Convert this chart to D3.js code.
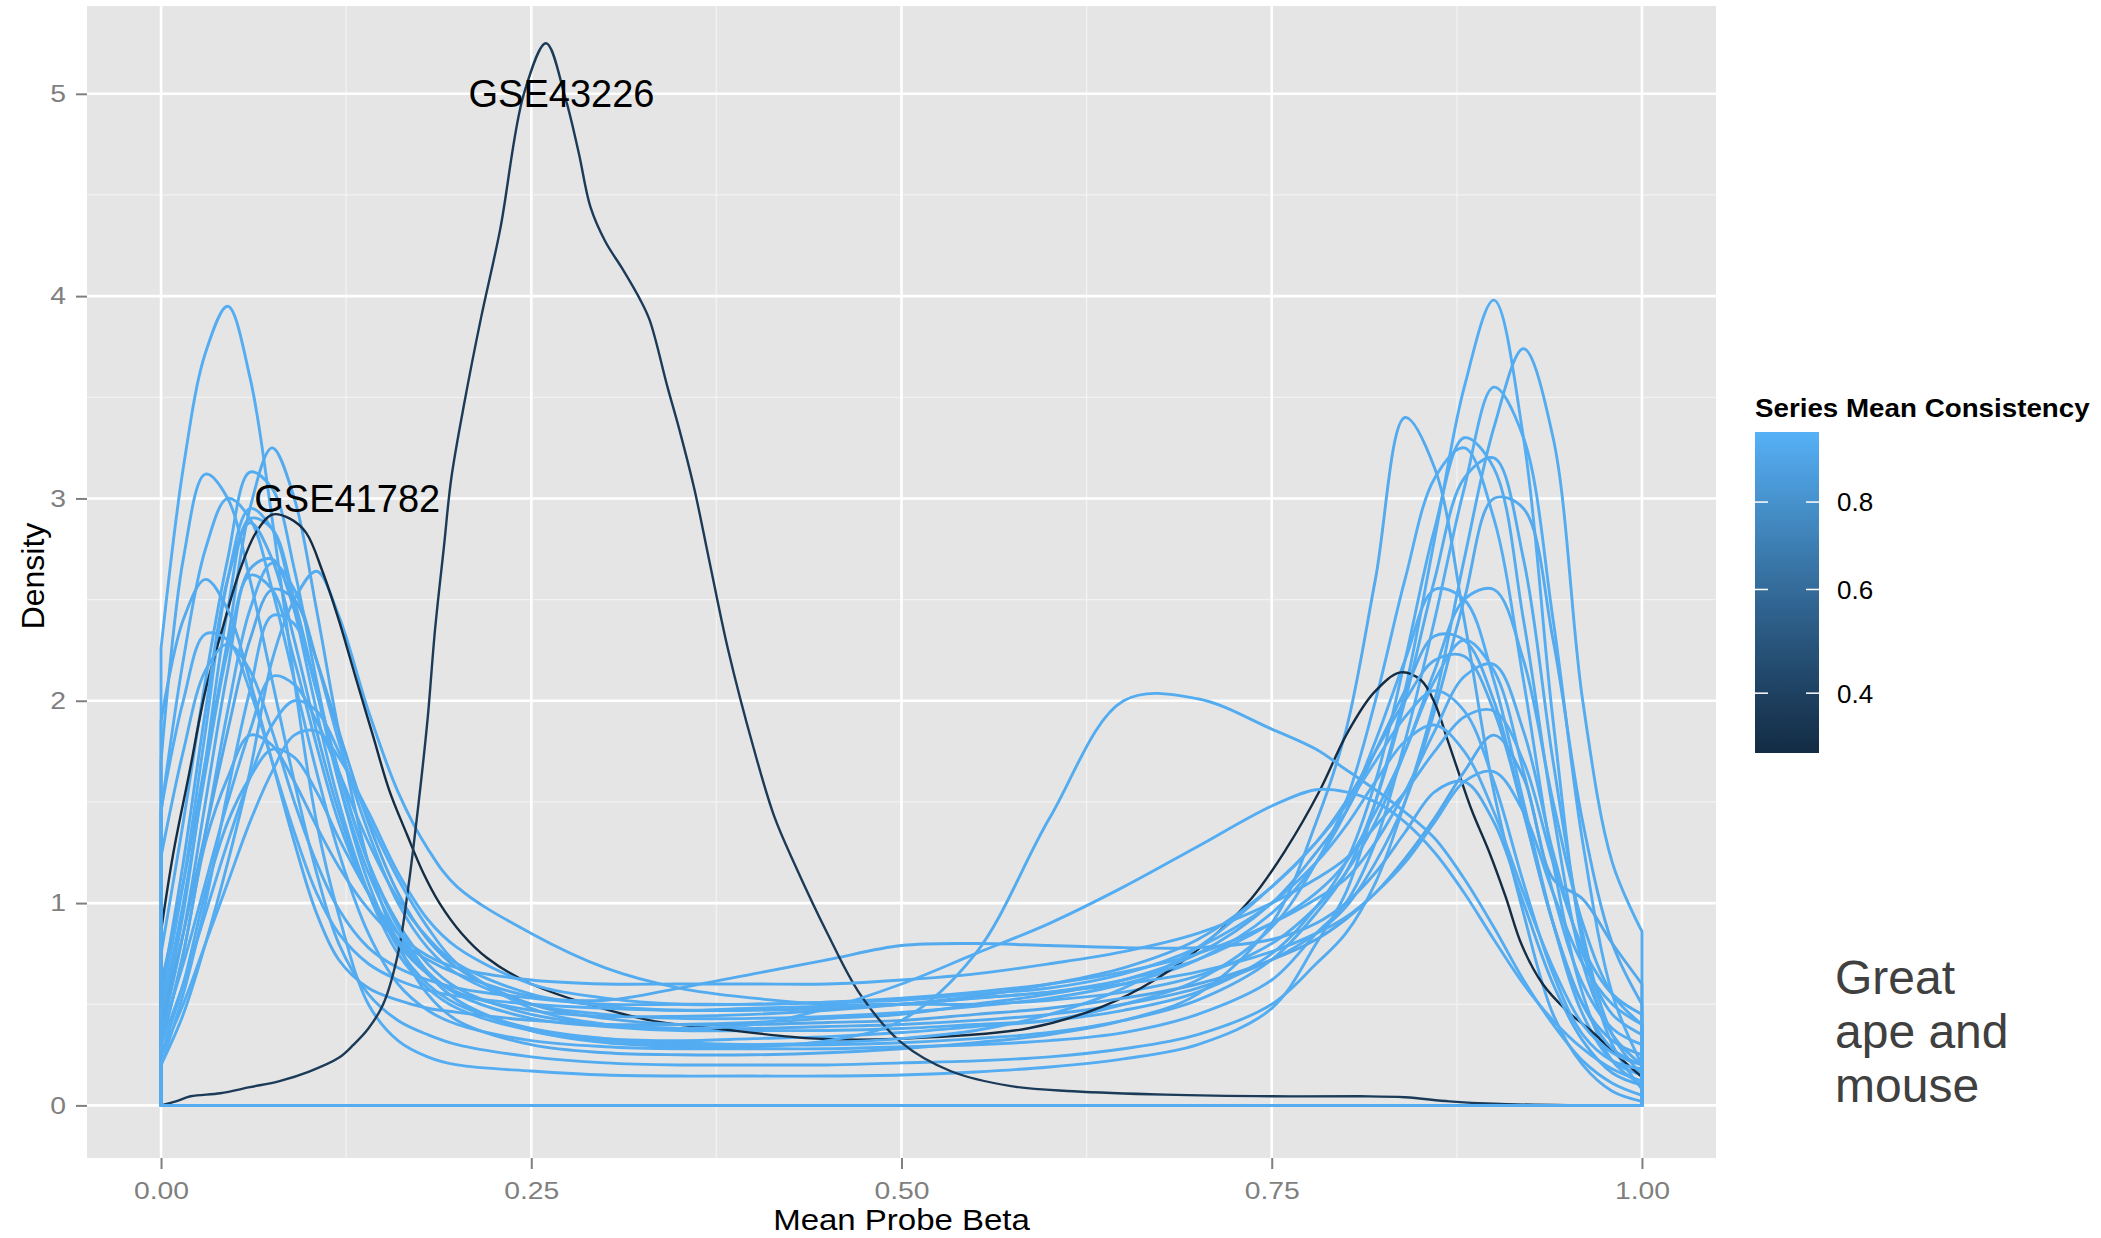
<!DOCTYPE html>
<html>
<head>
<meta charset="utf-8">
<script src="https://cdn.jsdelivr.net/npm/d3@7"></script>
<style>
  body { margin: 0; background: #ffffff; }
  svg { display: block; }
  text { font-family: "Liberation Sans", Arial, Helvetica, sans-serif; }
</style>
</head>
<body>
<svg id="chart" width="2101" height="1238"></svg>
<script>
// Shared beta grid for the per-series density estimates
const betaGrid = [0, 0.015, 0.03, 0.045, 0.06, 0.075, 0.09, 0.105, 0.12, 0.14, 0.16, 0.18, 0.2, 0.25, 0.3, 0.35, 0.4, 0.45, 0.5, 0.55, 0.6, 0.65, 0.7, 0.75, 0.78, 0.8, 0.82, 0.84, 0.86, 0.88, 0.9, 0.92, 0.94, 0.96, 0.98, 1];

// Densities of the high-consistency series on betaGrid
const s01 = [2.26, 3.15, 3.72, 3.95, 3.6, 2.9, 2.1, 1.4, 0.94, 0.5, 0.32, 0.24, 0.2, 0.17, 0.15, 0.145, 0.145, 0.145, 0.15, 0.165, 0.19, 0.23, 0.3, 0.48, 0.8, 1.05, 1.5, 2.05, 2.8, 3.55, 3.98, 3.3, 1.9, 0.8, 0.3, 0.08];
const s02 = [1.7, 2.7, 3.12, 3.0, 2.6, 2.1, 1.6, 1.15, 0.8, 0.55, 0.42, 0.35, 0.3, 0.24, 0.21, 0.2, 0.2, 0.2, 0.21, 0.22, 0.24, 0.28, 0.35, 0.5, 0.7, 0.85, 1.1, 1.5, 2.0, 2.7, 3.35, 3.74, 3.3, 2.0, 1.2, 0.86];
const s03 = [1.45, 2.2, 2.75, 3.0, 2.9, 2.55, 2.1, 1.65, 1.25, 0.85, 0.6, 0.47, 0.4, 0.32, 0.29, 0.28, 0.28, 0.28, 0.29, 0.3, 0.32, 0.36, 0.45, 0.62, 0.85, 1.0, 1.3, 1.8, 2.4, 3.05, 3.55, 3.3, 2.4, 1.3, 0.55, 0.2];
const s04 = [0.6, 1.1, 1.7, 2.3, 2.95, 3.25, 3.0, 2.45, 1.85, 1.2, 0.8, 0.55, 0.42, 0.3, 0.26, 0.25, 0.25, 0.26, 0.28, 0.31, 0.35, 0.42, 0.55, 0.9, 1.4, 1.85, 2.6, 3.4, 3.15, 2.4, 1.55, 0.95, 0.45, 0.2, 0.07, 0.02];
const s05 = [0.75, 1.4, 2.1, 2.7, 3.13, 3.05, 2.65, 2.1, 1.6, 1.1, 0.78, 0.6, 0.5, 0.38, 0.33, 0.31, 0.3, 0.3, 0.31, 0.33, 0.36, 0.42, 0.52, 0.72, 0.95, 1.15, 1.5, 2.0, 2.6, 3.1, 3.2, 2.7, 1.7, 0.85, 0.35, 0.15];
const s06 = [0.5, 1.1, 1.85, 2.6, 2.95, 2.85, 2.45, 1.95, 1.5, 1.05, 0.75, 0.58, 0.48, 0.37, 0.33, 0.32, 0.33, 0.34, 0.36, 0.39, 0.42, 0.5, 0.62, 0.88, 1.2, 1.5, 2.0, 2.6, 3.1, 3.25, 2.9, 2.1, 1.2, 0.55, 0.22, 0.1];
const s07 = [0.4, 0.95, 1.7, 2.45, 2.9, 2.85, 2.5, 2.05, 1.6, 1.15, 0.85, 0.66, 0.55, 0.43, 0.39, 0.37, 0.37, 0.37, 0.38, 0.4, 0.42, 0.47, 0.56, 0.75, 0.98, 1.2, 1.6, 2.2, 2.85, 3.3, 3.15, 2.4, 1.45, 0.7, 0.35, 0.2];
const s08 = [0.35, 0.85, 1.5, 2.15, 2.65, 2.7, 2.45, 2.05, 1.65, 1.2, 0.9, 0.7, 0.58, 0.45, 0.4, 0.38, 0.38, 0.39, 0.4, 0.42, 0.45, 0.5, 0.58, 0.72, 0.85, 0.98, 1.2, 1.5, 1.95, 2.5, 3.0, 2.95, 2.3, 1.4, 0.8, 0.5];
const s09 = [0.3, 0.75, 1.35, 1.95, 2.45, 2.68, 2.55, 2.2, 1.8, 1.35, 1.0, 0.78, 0.65, 0.5, 0.45, 0.43, 0.43, 0.44, 0.46, 0.49, 0.53, 0.6, 0.72, 0.95, 1.2, 1.45, 1.8, 2.2, 2.55, 2.5, 2.1, 1.5, 0.9, 0.45, 0.22, 0.15];
const s10 = [0.2, 0.45, 0.8, 1.2, 1.65, 2.2, 2.5, 2.64, 2.42, 1.95, 1.55, 1.27, 1.08, 0.85, 0.68, 0.58, 0.53, 0.5, 0.5, 0.5, 0.52, 0.56, 0.64, 0.8, 0.98, 1.15, 1.4, 1.75, 2.15, 2.5, 2.55, 2.2, 1.5, 0.9, 0.55, 0.4];
const s11 = [1.9, 2.4, 2.6, 2.45, 2.1, 1.7, 1.3, 0.95, 0.72, 0.58, 0.52, 0.48, 0.46, 0.42, 0.4, 0.4, 0.41, 0.43, 0.45, 0.5, 0.55, 0.62, 0.75, 1.0, 1.25, 1.45, 1.75, 2.05, 2.32, 2.3, 2.0, 1.45, 0.9, 0.5, 0.32, 0.25];
const s12 = [1.46, 2.0, 2.33, 2.3, 2.05, 1.7, 1.35, 1.05, 0.85, 0.7, 0.62, 0.57, 0.54, 0.5, 0.48, 0.47, 0.48, 0.49, 0.5, 0.53, 0.56, 0.62, 0.72, 0.9, 1.05, 1.2, 1.45, 1.75, 2.1, 2.3, 2.15, 1.65, 1.05, 0.6, 0.38, 0.3];
const s13 = [1.23, 1.75, 2.15, 2.28, 2.15, 1.85, 1.5, 1.2, 0.97, 0.78, 0.68, 0.62, 0.58, 0.53, 0.5, 0.5, 0.5, 0.51, 0.53, 0.56, 0.6, 0.66, 0.75, 0.9, 1.02, 1.12, 1.3, 1.55, 1.85, 2.12, 2.18, 1.85, 1.25, 0.75, 0.45, 0.35];
const s14 = [0.4, 0.85, 1.35, 1.85, 2.3, 2.55, 2.5, 2.2, 1.85, 1.4, 1.05, 0.82, 0.68, 0.5, 0.43, 0.4, 0.4, 0.41, 0.42, 0.45, 0.48, 0.53, 0.6, 0.72, 0.82, 0.92, 1.05, 1.22, 1.42, 1.65, 1.83, 1.62, 1.12, 1.02, 0.8, 0.6];
const s15 = [0.25, 0.5, 0.8, 1.1, 1.4, 1.65, 1.83, 1.85, 1.72, 1.45, 1.15, 0.92, 0.78, 0.6, 0.53, 0.5, 0.5, 0.51, 0.52, 0.55, 0.58, 0.65, 0.78, 1.0, 1.2, 1.38, 1.6, 1.8, 1.88, 1.75, 1.45, 1.05, 0.68, 0.4, 0.26, 0.2];
const s16 = [0.3, 0.75, 1.3, 1.62, 1.83, 1.78, 1.6, 1.38, 1.18, 0.97, 0.82, 0.72, 0.65, 0.54, 0.52, 0.58, 0.65, 0.72, 0.79, 0.8, 0.79, 0.78, 0.78, 0.82, 0.9, 1.0, 1.15, 1.35, 1.55, 1.6, 1.4, 1.0, 0.6, 0.32, 0.16, 0.1];
const s17 = [0.35, 0.7, 1.1, 1.5, 1.85, 2.12, 2.08, 1.9, 1.65, 1.3, 1.02, 0.83, 0.7, 0.55, 0.49, 0.47, 0.47, 0.48, 0.5, 0.53, 0.56, 0.6, 0.66, 0.76, 0.85, 0.93, 1.05, 1.2, 1.4, 1.6, 1.65, 1.45, 1.05, 0.7, 0.5, 0.4];
const s18 = [0.25, 0.6, 1.05, 1.4, 1.62, 1.76, 1.72, 1.55, 1.32, 1.05, 0.82, 0.65, 0.52, 0.37, 0.31, 0.29, 0.29, 0.32, 0.42, 0.75, 1.42, 2.0, 2.01, 1.86, 1.76, 1.66, 1.56, 1.45, 1.32, 1.12, 0.88, 0.62, 0.4, 0.22, 0.11, 0.05];
const s19 = [0.3, 0.6, 0.95, 1.3, 1.62, 1.88, 2.0, 1.95, 1.75, 1.42, 1.12, 0.88, 0.7, 0.48, 0.4, 0.38, 0.4, 0.48, 0.6, 0.75, 0.9, 1.08, 1.28, 1.48, 1.56, 1.55, 1.5, 1.4, 1.25, 1.05, 0.82, 0.6, 0.42, 0.28, 0.18, 0.12];
const s20 = [0.55, 1.2, 1.95, 2.6, 2.88, 2.7, 2.3, 1.85, 1.45, 1.05, 0.8, 0.65, 0.56, 0.47, 0.44, 0.44, 0.45, 0.47, 0.5, 0.54, 0.6, 0.68, 0.82, 1.08, 1.3, 1.5, 1.75, 2.0, 2.2, 2.22, 1.95, 1.45, 0.9, 0.5, 0.28, 0.2];
const s21 = [0.45, 1.0, 1.65, 2.25, 2.62, 2.55, 2.2, 1.78, 1.4, 1.05, 0.85, 0.74, 0.68, 0.62, 0.6, 0.6, 0.6, 0.6, 0.62, 0.65, 0.7, 0.76, 0.85, 1.0, 1.12, 1.22, 1.38, 1.55, 1.75, 1.92, 1.95, 1.7, 1.2, 0.78, 0.55, 0.45];
const s22 = [0.2, 0.55, 1.0, 1.55, 2.05, 2.42, 2.38, 2.05, 1.65, 1.2, 0.88, 0.66, 0.52, 0.37, 0.32, 0.3, 0.3, 0.31, 0.33, 0.37, 0.45, 0.58, 0.78, 1.08, 1.3, 1.48, 1.7, 1.92, 2.05, 1.95, 1.6, 1.1, 0.65, 0.35, 0.22, 0.18];

const lightSeries = [s01, s02, s03, s04, s05, s06, s07, s08, s09, s10, s11, s12, s13, s14, s15, s16, s17, s18, s19, s20, s21, s22];
const lightConsistency = [0.96, 0.95, 0.96, 0.94, 0.95, 0.96, 0.95, 0.94, 0.96, 0.95, 0.94, 0.96, 0.95, 0.93, 0.96, 0.94, 0.95, 0.95, 0.96, 0.94, 0.95, 0.96];

// The two low-consistency series, each on its own beta grid
const gse43226Beta = [0, 0.01, 0.02, 0.04, 0.06, 0.08, 0.1, 0.12, 0.13, 0.14, 0.15, 0.16, 0.167, 0.174, 0.18, 0.185, 0.191, 0.196, 0.205, 0.216, 0.229, 0.245, 0.26, 0.273, 0.282, 0.29, 0.3, 0.312, 0.323, 0.33, 0.342, 0.35, 0.36, 0.37, 0.383, 0.4, 0.414, 0.428, 0.45, 0.472, 0.5, 0.533, 0.574, 0.616, 0.678, 0.75, 0.81, 0.84, 0.87, 0.9, 0.95, 1];
const gse43226Density = [0, 0.02, 0.045, 0.06, 0.09, 0.12, 0.167, 0.235, 0.3, 0.38, 0.5, 0.75, 1.08, 1.5, 1.91, 2.35, 2.76, 3.1, 3.48, 3.89, 4.33, 5.0, 5.25, 4.98, 4.71, 4.44, 4.27, 4.13, 3.99, 3.88, 3.55, 3.34, 3.05, 2.7, 2.25, 1.77, 1.43, 1.19, 0.85, 0.55, 0.31, 0.17, 0.095, 0.07, 0.053, 0.045, 0.045, 0.04, 0.02, 0.008, 0.001, 0];
const gse41782Beta = [0, 0.008, 0.019, 0.03, 0.042, 0.053, 0.064, 0.075, 0.087, 0.098, 0.109, 0.12, 0.132, 0.143, 0.154, 0.166, 0.177, 0.188, 0.203, 0.22, 0.25, 0.327, 0.375, 0.442, 0.5, 0.585, 0.636, 0.671, 0.705, 0.736, 0.76, 0.782, 0.801, 0.819, 0.837, 0.851, 0.86, 0.869, 0.876, 0.885, 0.897, 0.908, 0.919, 0.933, 0.949, 0.967, 0.983, 1];
const gse41782Density = [0.86, 1.235, 1.64, 2.05, 2.37, 2.64, 2.83, 2.92, 2.9, 2.83, 2.64, 2.4, 2.1, 1.83, 1.56, 1.34, 1.15, 1.0, 0.85, 0.73, 0.6, 0.425, 0.38, 0.33, 0.33, 0.38, 0.49, 0.62, 0.8, 1.02, 1.27, 1.55, 1.84, 2.04, 2.14, 2.1, 1.99, 1.8, 1.65, 1.46, 1.25, 1.03, 0.79, 0.6, 0.47, 0.36, 0.25, 0.14];
const darkConsistency = [0.37, 0.31];

// Text labels for the two outlying series
const seriesLabels = ["GSE43226", "GSE41782"];
const labelBeta = [0.2704, 0.1257];
const labelDensity = [5, 3];

// Axis ticks
const xTicks = [0, 0.25, 0.5, 0.75, 1];
const xMinor = [0.125, 0.375, 0.625, 0.875];
const yTicks = [0, 1, 2, 3, 4, 5];
const yMinor = [0.5, 1.5, 2.5, 3.5, 4.5];
const legendTicks = [0.4, 0.6, 0.8];
const noteLines = ["Great", "ape and", "mouse"];

// ---------------------------------------------------------------
const svg = d3.select("#chart");
const panel = { left: 87, right: 1716, top: 6, bottom: 1158 };

const x = d3.scaleLinear().domain([-0.05, 1.05]).range([panel.left, panel.right]);
const y = d3.scaleLinear().domain([-0.26, 5.434]).range([panel.bottom, panel.top]);

// Colour by series mean consistency (square-root transformed gradient)
const consistencyDomain = [0.303, 0.981];
const colour = d3.scaleSqrt().domain(consistencyDomain)
  .range(["#132B43", "#56B1F7"]).interpolate(d3.interpolateLab);

// Panel background and grid
svg.append("rect")
  .attr("x", panel.left).attr("y", panel.top)
  .attr("width", panel.right - panel.left).attr("height", panel.bottom - panel.top)
  .attr("fill", "#E5E5E5");

const grid = svg.append("g");
grid.selectAll(".vminor").data(xMinor).join("line")
  .attr("x1", d => x(d)).attr("x2", d => x(d))
  .attr("y1", panel.top).attr("y2", panel.bottom)
  .attr("stroke", "#F2F2F2").attr("stroke-width", 1.3);
grid.selectAll(".hminor").data(yMinor).join("line")
  .attr("y1", d => y(d)).attr("y2", d => y(d))
  .attr("x1", panel.left).attr("x2", panel.right)
  .attr("stroke", "#F2F2F2").attr("stroke-width", 1.3);
grid.selectAll(".vmajor").data(xTicks).join("line")
  .attr("x1", d => x(d)).attr("x2", d => x(d))
  .attr("y1", panel.top).attr("y2", panel.bottom)
  .attr("stroke", "#FFFFFF").attr("stroke-width", 2.6);
grid.selectAll(".hmajor").data(yTicks).join("line")
  .attr("y1", d => y(d)).attr("y2", d => y(d))
  .attr("x1", panel.left).attr("x2", panel.right)
  .attr("stroke", "#FFFFFF").attr("stroke-width", 2.6);

// Density outlines (closed polygons down to the baseline)
svg.append("clipPath").attr("id", "panel-clip")
  .append("rect")
  .attr("x", panel.left).attr("y", panel.top)
  .attr("width", panel.right - panel.left).attr("height", panel.bottom - panel.top);

const curveLine = d3.line()
  .x(d => x(d[0])).y(d => y(Math.max(0, d[1])))
  .curve(d3.curveCatmullRom.alpha(0.5));

function outline(beta, dens) {
  const pts = beta.map((b, i) => [b, dens[i]]);
  return curveLine(pts) +
    "L" + x(beta[beta.length - 1]) + "," + y(0) +
    "L" + x(beta[0]) + "," + y(0) + "Z";
}

const lightItems = lightSeries.map((d, i) => ({ beta: betaGrid, dens: d, c: lightConsistency[i], w: 2.9 }));
const gse43226 = { beta: gse43226Beta, dens: gse43226Density, c: darkConsistency[0], w: 2.4 };
const gse41782 = { beta: gse41782Beta, dens: gse41782Density, c: darkConsistency[1], w: 2.4 };
const drawOrder = [
  ...lightItems.slice(0, 10), gse41782,
  ...lightItems.slice(10, 17), gse43226,
  ...lightItems.slice(17)
];

svg.append("g").attr("clip-path", "url(#panel-clip)")
  .selectAll("path").data(drawOrder).join("path")
  .attr("d", d => outline(d.beta, d.dens))
  .attr("fill", "none")
  .attr("stroke", d => colour(d.c))
  .attr("stroke-width", d => d.w)
  .attr("stroke-linejoin", "round");

// Series labels
svg.append("g").selectAll("text").data(seriesLabels).join("text")
  .attr("x", (d, i) => x(labelBeta[i]))
  .attr("y", (d, i) => y(labelDensity[i]))
  .attr("dy", "0.36em")
  .attr("text-anchor", "middle")
  .attr("font-size", 38)
  .attr("fill", "#000000")
  .text(d => d);

// Axes
const tickStretch = 1.18;
const xAxis = d3.axisBottom(x).tickValues(xTicks).tickFormat(d3.format(".2f"))
  .tickSize(11).tickPadding(13);
const gx = svg.append("g").attr("transform", `translate(0,${panel.bottom})`).call(xAxis);
gx.select(".domain").remove();
gx.selectAll(".tick line").attr("stroke", "#7F7F7F").attr("stroke-width", 2);
gx.selectAll(".tick text")
  .attr("font-size", 24).attr("fill", "#7F7F7F")
  .attr("font-family", "Liberation Sans, Arial, sans-serif")
  .attr("transform", `scale(${tickStretch},1)`);

const yAxis = d3.axisLeft(y).tickValues(yTicks).tickFormat(d3.format("d"))
  .tickSize(11).tickPadding(10);
const gy = svg.append("g").attr("transform", `translate(${panel.left},0)`).call(yAxis);
gy.select(".domain").remove();
gy.selectAll(".tick line").attr("stroke", "#7F7F7F").attr("stroke-width", 2);
gy.selectAll(".tick text")
  .attr("font-size", 24).attr("fill", "#7F7F7F")
  .attr("font-family", "Liberation Sans, Arial, sans-serif")
  .attr("x", -21 / tickStretch)
  .attr("transform", `scale(${tickStretch},1)`);

// Axis titles
svg.append("text")
  .attr("transform", `translate(${(panel.left + panel.right) / 2},1230) scale(1.1,1)`)
  .attr("text-anchor", "middle")
  .attr("font-size", 30).attr("fill", "#000")
  .text("Mean Probe Beta");

svg.append("text")
  .attr("transform", `translate(44,576) rotate(-90)`)
  .attr("text-anchor", "middle")
  .attr("font-size", 32).attr("fill", "#000")
  .text("Density");

// Colour bar legend
const bar = { x: 1755, y: 432, w: 64, h: 321 };
const legendY = d3.scaleSqrt().domain(consistencyDomain).range([bar.y + bar.h, bar.y]);

const grad = svg.append("defs").append("linearGradient")
  .attr("id", "consistency-gradient")
  .attr("x1", 0).attr("y1", 0).attr("x2", 0).attr("y2", 1);
grad.selectAll("stop").data(d3.range(0, 21)).join("stop")
  .attr("offset", i => i / 20)
  .attr("stop-color", i => colour(legendY.invert(bar.y + bar.h * i / 20)));

svg.append("text")
  .attr("transform", `translate(${bar.x},417) scale(1.11,1)`)
  .attr("font-size", 25).attr("font-weight", "bold").attr("fill", "#000")
  .text("Series Mean Consistency");

svg.append("rect")
  .attr("x", bar.x).attr("y", bar.y).attr("width", bar.w).attr("height", bar.h)
  .attr("fill", "url(#consistency-gradient)");

const lg = svg.append("g");
lg.selectAll(".lt-left").data(legendTicks).join("line")
  .attr("x1", bar.x).attr("x2", bar.x + 13)
  .attr("y1", d => legendY(d)).attr("y2", d => legendY(d))
  .attr("stroke", "#FFFFFF").attr("stroke-width", 1.5);
lg.selectAll(".lt-right").data(legendTicks).join("line")
  .attr("x1", bar.x + bar.w - 13).attr("x2", bar.x + bar.w)
  .attr("y1", d => legendY(d)).attr("y2", d => legendY(d))
  .attr("stroke", "#FFFFFF").attr("stroke-width", 1.5);
lg.selectAll("text").data(legendTicks).join("text")
  .attr("x", 1837).attr("y", d => legendY(d))
  .attr("dy", "0.36em")
  .attr("font-size", 26).attr("fill", "#000")
  .text(d3.format(".1f"));

// Side note
svg.append("g").selectAll("text").data(noteLines).join("text")
  .attr("x", 1835).attr("y", (d, i) => 994 + i * 54)
  .attr("font-size", 48).attr("fill", "#404040")
  .text(d => d);
</script>
</body>
</html>
